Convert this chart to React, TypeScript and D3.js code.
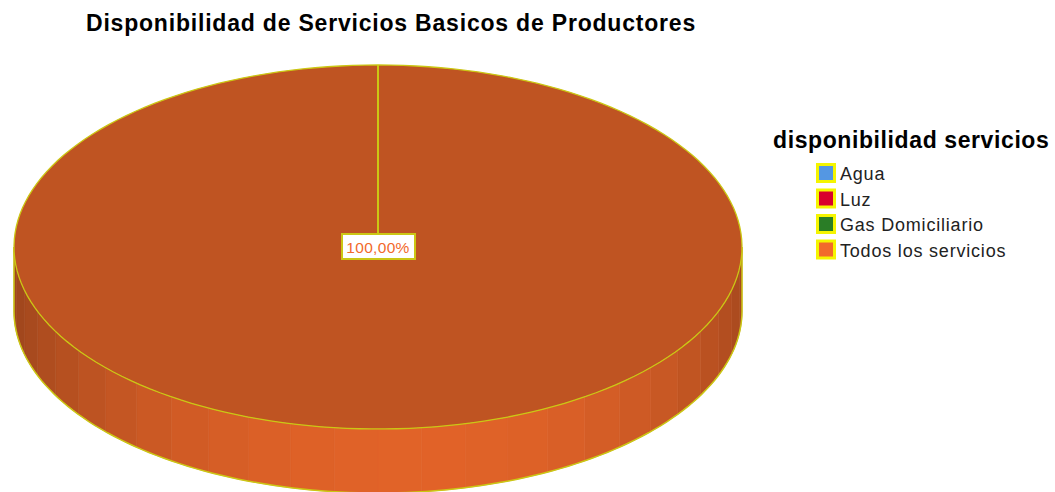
import React from 'react';
import * as d3 from 'd3';

// chart data
const title = 'Disponibilidad de Servicios Basicos de Productores';
const legendTitle = 'disponibilidad servicios';
const categories = ['Agua', 'Luz', 'Gas Domiciliario', 'Todos los servicios'];
const values = [0, 0, 0, 100];
const colors = ['#5497e3', '#d9002c', '#2a7d26', '#f26a2b'];

const W = 1055;
const H = 492;
const cx = 378;
const cy = 247;
const rx = 364;
const ry = 182;
const depth = 64;
const outline = '#cbc714';

const pt = (a: number, dy = 0): [number, number] => [cx + rx * Math.sin(a), cy - ry * Math.cos(a) + dy];

const topPath = (a0: number, a1: number) => {
  const p = d3.path();
  const full = a1 - a0 >= 2 * Math.PI - 1e-6;
  const n = Math.max(2, Math.ceil(((a1 - a0) / (2 * Math.PI)) * 180));
  if (!full) p.moveTo(cx, cy);
  for (let i = 0; i <= n; i++) {
    const [x, y] = pt(a0 + ((a1 - a0) * i) / n);
    if (full && i === 0) p.moveTo(x, y);
    else p.lineTo(x, y);
  }
  p.closePath();
  return p.toString();
};

const shade = (c: string, k: number) => d3.interpolateRgb(c, '#000')(1 - k);

const App = () => {
  const arcs = d3.pie<number>().sort(null).startAngle(0).endAngle(2 * Math.PI)(values);
  const total = d3.sum(values);

  // front side strips (visible half: angles PI/2 .. 3PI/2)
  const strips: { d: string; fill: string }[] = [];
  const nStrips = 26;
  arcs.forEach((a, i) => {
    if (a.value === 0) return;
    const lo = Math.max(a.startAngle, Math.PI / 2);
    const hi = Math.min(a.endAngle, (3 * Math.PI) / 2);
    if (hi <= lo) return;
    for (let s = 0; s < nStrips; s++) {
      const t0 = lo + ((hi - lo) * s) / nStrips;
      const t1 = lo + ((hi - lo) * (s + 1)) / nStrips;
      const mid = (t0 + t1) / 2;
      const k = 0.66 + 0.27 * Math.pow(Math.max(0, Math.cos(mid - Math.PI * 0.97)), 1.3);
      const p = d3.path();
      const m = 8;
      let [x, y] = pt(t0);
      p.moveTo(x, y);
      for (let j = 1; j <= m; j++) {
        [x, y] = pt(t0 + ((t1 - t0) * j) / m);
        p.lineTo(x, y);
      }
      for (let j = m; j >= 0; j--) {
        [x, y] = pt(t0 + ((t1 - t0) * j) / m, depth);
        p.lineTo(x, y);
      }
      p.closePath();
      strips.push({ d: p.toString(), fill: shade(colors[i], k) });
    }
  });

  // outer silhouette of lower half
  const sil = d3.path();
  {
    let [x, y] = pt(Math.PI / 2);
    sil.moveTo(x, y);
    [x, y] = pt(Math.PI / 2, depth);
    sil.lineTo(x, y);
    const n = 120;
    for (let i = 1; i <= n; i++) {
      [x, y] = pt(Math.PI / 2 + (Math.PI * i) / n, depth);
      sil.lineTo(x, y);
    }
    [x, y] = pt((3 * Math.PI) / 2);
    sil.lineTo(x, y);
  }

  return (
    <div style={{ position: 'absolute', left: 0, top: 0 }}>
      <svg width={W} height={H} style={{ display: 'block', fontFamily: '"Liberation Sans", Arial, sans-serif' }}>
        <rect width={W} height={H} fill="#fff" />
        <text x={391} y={31} textAnchor="middle" fontSize={23} fontWeight="bold" letterSpacing={0.8} fill="#000">
          {title}
        </text>

        <g>
          {strips.map((s, i) => (
            <path key={i} d={s.d} fill={s.fill} stroke={s.fill} strokeWidth={0.6} />
          ))}
          <path d={sil.toString()} fill="none" stroke={outline} strokeWidth={1.5} />
          {arcs.map((a, i) =>
            a.value === 0 ? null : (
              <path key={i} d={topPath(a.startAngle, a.endAngle)} fill={shade(colors[i], 0.79)} stroke={outline} strokeWidth={1.3} />
            )
          )}
          {arcs
            .filter((a) => a.value > 0)
            .map((a, i) => {
              const [x, y] = pt(a.startAngle);
              return <line key={i} x1={cx} y1={cy} x2={x} y2={y} stroke={outline} strokeWidth={2} />;
            })}
          {arcs.map((a, i) => {
            if (a.value === 0) return null;
            const frac = a.value / total;
            const label = d3.format('.2f')(frac * 100).replace('.', ',') + '%';
            const mid = (a.startAngle + a.endAngle) / 2;
            const [lx, ly] = frac >= 0.999 ? [cx, cy] : [cx + rx * 0.6 * Math.sin(mid), cy - ry * 0.6 * Math.cos(mid)];
            return (
              <g key={'l' + i}>
                <rect x={lx - 36} y={ly - 13} width={73} height={25} fill="#fff" stroke={outline} strokeWidth={2} />
                <text x={lx} y={ly + 5.5} textAnchor="middle" fontSize={15.5} letterSpacing={0.3} fill={colors[i]}>
                  {label}
                </text>
              </g>
            );
          })}
        </g>

        <text x={773} y={148} fontSize={23} fontWeight="bold" letterSpacing={0.6} fill="#000">
          {legendTitle}
        </text>
        {categories.map((c, i) => (
          <g key={c} transform={`translate(816, ${163 + i * 25.5})`}>
            <rect x={1.5} y={1.5} width={17} height={17} fill={colors[i]} stroke="#f5f500" strokeWidth={3} />
            <text x={24} y={17} fontSize={18} letterSpacing={0.8} fill="#222">
              {c}
            </text>
          </g>
        ))}
      </svg>
    </div>
  );
};

export default App;
